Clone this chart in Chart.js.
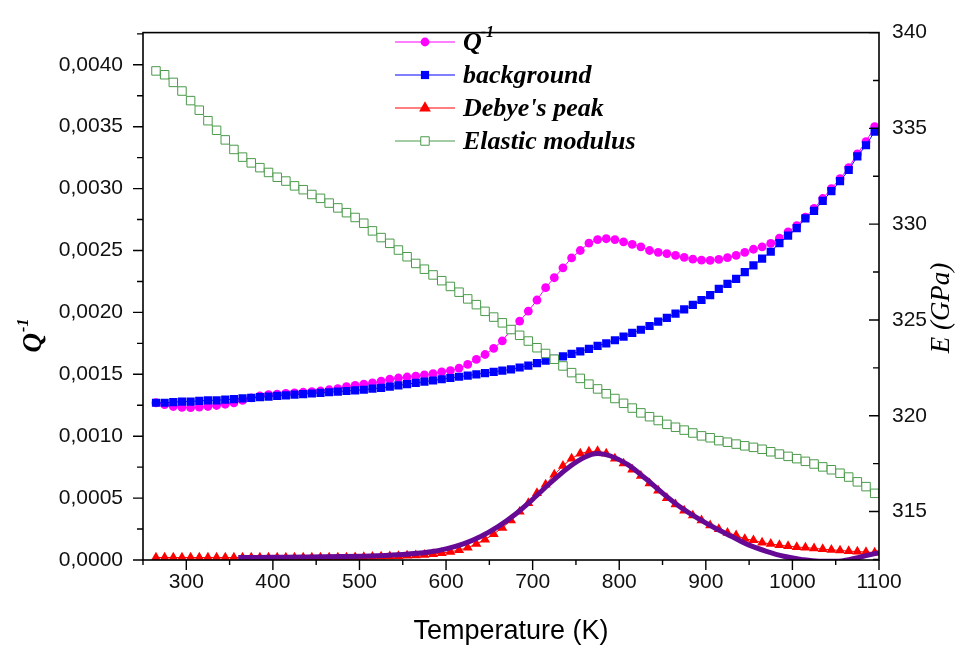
<!DOCTYPE html>
<html>
<head>
<meta charset="utf-8">
<script src="https://cdn.jsdelivr.net/npm/chart.js@4.4.1/dist/chart.umd.min.js"></script>
<style>
  html, body { margin: 0; padding: 0; background: #fff; }
</style>
</head>
<body>
<canvas id="c" width="967" height="649"></canvas>
<script>
// temperature grid of the measured points (K)
const temps = [
  265,275,285,295,305,315,325,335,345,355,
  365,375,385,395,405,415,425,435,445,455,
  465,475,485,495,505,515,525,535,545,555,
  565,575,585,595,605,615,625,635,645,655,
  665,675,685,695,705,715,725,735,745,755,
  765,775,785,795,805,815,825,835,845,855,
  865,875,885,895,905,915,925,935,945,955,
  965,975,985,995,1005,1015,1025,1035,1045,1055,
  1065,1075,1085,1095
];

// internal friction Q^-1
const qInv = [
  0.00127,0.001255,0.00124,0.001232,0.00123,0.001235,0.00124,0.001248,0.001258,0.00127,
  0.00129,0.00131,0.001325,0.001335,0.00134,0.001345,0.00135,0.001355,0.00136,0.001365,
  0.001375,0.001385,0.0014,0.00141,0.00142,0.00143,0.001445,0.00146,0.00147,0.001478,
  0.001485,0.001495,0.001505,0.00152,0.00153,0.00155,0.00158,0.00162,0.00166,0.00171,
  0.00177,0.00186,0.00193,0.00201,0.0021,0.0022,0.00228,0.00236,0.00244,0.0025,
  0.00256,0.002588,0.002595,0.002588,0.00257,0.00255,0.00253,0.0025,0.002485,0.002475,
  0.00246,0.002445,0.00243,0.002422,0.00242,0.002428,0.002443,0.00246,0.002485,0.00251,
  0.00253,0.002558,0.0026,0.00265,0.0027,0.00277,0.00284,0.00292,0.003,0.00308,
  0.00317,0.00328,0.00338,0.0035
];

// exponential background
const background = [
  0.00127,0.00127,0.001275,0.00128,0.00128,0.001285,0.00129,0.00129,0.001295,0.0013,
  0.001305,0.00131,0.001315,0.00132,0.001325,0.00133,0.001335,0.00134,0.001345,0.00135,
  0.001355,0.00136,0.001365,0.00137,0.001375,0.001385,0.00139,0.0014,0.00141,0.00142,
  0.00143,0.00144,0.00145,0.00146,0.00147,0.00148,0.00149,0.0015,0.00151,0.00152,
  0.00153,0.00154,0.001555,0.00157,0.00159,0.00161,0.001625,0.001645,0.001665,0.001685,
  0.001705,0.00173,0.00175,0.001775,0.001805,0.001835,0.00186,0.00189,0.001925,0.001955,
  0.00199,0.002025,0.00206,0.0021,0.00214,0.00219,0.00223,0.00227,0.002325,0.00238,
  0.002435,0.00249,0.00256,0.00262,0.00268,0.00276,0.00282,0.0029,0.00298,0.00306,
  0.00315,0.00326,0.00335,0.00346
];

// Q^-1 minus background
const debye = [
  0.00002,0.00002,0.00002,0.00002,0.00002,0.00002,0.00002,0.00002,0.00002,0.00002,
  0.00002,0.00002,0.00002,0.00002,0.00002,0.00002,0.00002,0.00002,0.00002,0.00002,
  0.00002,0.00002,0.00002,0.000022,0.000024,0.000026,0.000028,0.00003,0.000032,0.000035,
  0.000038,0.000042,0.000048,0.000056,0.000066,0.00008,0.0001,0.00013,0.000165,0.00021,
  0.00026,0.00032,0.00039,0.00046,0.00054,0.00061,0.00069,0.00076,0.00082,0.00086,
  0.000875,0.00088,0.00086,0.00082,0.00078,0.00073,0.00068,0.00062,0.00056,0.0005,
  0.00045,0.0004,0.00036,0.00032,0.00028,0.00025,0.00022,0.0002,0.00017,0.00016,
  0.00014,0.00013,0.00012,0.000112,0.000105,0.0001,0.000094,0.000088,0.000082,0.000077,
  0.000072,0.000068,0.000064,0.00006
];

// Young's modulus E (GPa), right axis
const modulus = [
  338.0,337.8,337.4,336.95,336.45,335.95,335.4,334.9,334.4,333.9,
  333.5,333.2,332.95,332.7,332.45,332.25,332.0,331.8,331.55,331.35,
  331.1,330.85,330.6,330.35,330.05,329.65,329.3,329.0,328.65,328.3,
  327.95,327.65,327.35,327.05,326.75,326.45,326.1,325.8,325.45,325.15,
  324.85,324.5,324.2,323.9,323.55,323.25,322.95,322.6,322.25,321.95,
  321.65,321.4,321.15,320.9,320.65,320.4,320.15,319.95,319.75,319.55,
  319.4,319.25,319.1,318.95,318.85,318.7,318.62,318.52,318.43,318.35,
  318.25,318.12,318.0,317.88,317.76,317.62,317.48,317.33,317.18,317.0,
  316.8,316.55,316.3,315.95
];

// fitted Debye peak
const fitT = [360,400,440,480,520,550,580,600,620,640,660,680,700,720,740,760,775,790,810,830,850,870,890,910,930,950,970,990,1010,1030,1050,1070,1085,1100];
const fitQ = [0.00002,0.000022,0.000024,0.000028,0.000035,0.000045,0.000065,0.00009,0.00013,0.00019,0.00027,0.00037,0.00049,0.00062,0.00074,0.00083,0.00086,0.00084,0.00077,0.00066,0.00054,0.00043,0.00034,0.00026,0.00019,0.00012,0.00007,0.00003,0.000005,-0.00001,-0.00001,0.00001,0.000035,0.00006];

const xTicks = [300,400,500,600,700,800,900,1000,1100];
const qTicks = [0,0.0005,0.001,0.0015,0.002,0.0025,0.003,0.0035,0.004];
const eTicks = [315,320,325,330,335,340];

const pts = (xs, ys) => xs.map((x, i) => ({x: x, y: ys[i]}));

const tickFont = {family: 'Liberation Sans, Arial, sans-serif', size: 21};
const serif = '"Liberation Serif", "Times New Roman", serif';

// frame, outward/inward tick marks and minor ticks
const axesPlugin = {
  id: 'axesPlugin',
  afterDatasetsDraw(chart) {
    const {ctx, chartArea: a, scales} = chart;
    const sx = scales.x, sy = scales.y, se = scales.y2;
    ctx.save();
    ctx.strokeStyle = '#000';
    ctx.lineWidth = 1.6;
    ctx.strokeRect(a.left, a.top, a.right - a.left, a.bottom - a.top);
    ctx.lineWidth = 1.4;
    ctx.beginPath();
    xTicks.forEach(v => {
      const p = sx.getPixelForValue(v);
      ctx.moveTo(p, a.bottom); ctx.lineTo(p, a.bottom + 10);
      const m = sx.getPixelForValue(v - 50);
      if (v - 50 >= sx.min) { ctx.moveTo(m, a.bottom); ctx.lineTo(m, a.bottom + 5); }
    });
    qTicks.forEach(v => {
      const p = sy.getPixelForValue(v);
      ctx.moveTo(a.left, p); ctx.lineTo(a.left - 10, p);
      const mv = v + 0.00025;
      if (mv <= sy.max) {
        const m = sy.getPixelForValue(mv);
        ctx.moveTo(a.left, m); ctx.lineTo(a.left - 6, m);
      }
    });
    eTicks.forEach(v => {
      const p = se.getPixelForValue(v);
      ctx.moveTo(a.right, p); ctx.lineTo(a.right - 10, p);
      const mv = v - 2.5;
      if (mv >= se.min) {
        const m = se.getPixelForValue(mv);
        ctx.moveTo(a.right, m); ctx.lineTo(a.right - 6, m);
      }
    });
    ctx.stroke();

    // axis titles
    ctx.fillStyle = '#000';
    ctx.textBaseline = 'middle';
    ctx.textAlign = 'center';
    ctx.font = '27px "Liberation Sans", Arial, sans-serif';
    ctx.fillText('Temperature (K)', (a.left + a.right) / 2, 632);

    ctx.save();
    ctx.translate(34, 336);
    ctx.rotate(-Math.PI / 2);
    ctx.textAlign = 'left';
    ctx.font = 'bold italic 27px ' + serif;
    const qw = ctx.measureText('Q').width;
    ctx.font = 'bold italic 16px ' + serif;
    const sw = ctx.measureText('-1').width;
    const x0 = -(qw + sw) / 2;
    ctx.font = 'bold italic 27px ' + serif;
    ctx.fillText('Q', x0, 0);
    ctx.font = 'bold italic 16px ' + serif;
    ctx.fillText('-1', x0 + qw + 1, -10);
    ctx.restore();

    ctx.save();
    ctx.translate(942, 308);
    ctx.rotate(-Math.PI / 2);
    ctx.font = 'italic 27px ' + serif;
    ctx.fillText('E (GPa)', 0, 0);
    ctx.restore();
    ctx.restore();
  }
};

// legend: short line with the marker in its middle
const legendPlugin = {
  id: 'legendPlugin',
  afterDraw(chart) {
    const ctx = chart.ctx;
    const rows = [0, 1, 2, 3];
    const labels = ['Q', 'background', "Debye's peak", 'Elastic modulus'];
    ctx.save();
    rows.forEach((di, i) => {
      const ds = chart.data.datasets[di];
      const y = 42 + i * 33;
      ctx.strokeStyle = ds.borderColor;
      ctx.lineWidth = 1;
      ctx.beginPath();
      ctx.moveTo(395, y); ctx.lineTo(455, y);
      ctx.stroke();
      ctx.fillStyle = ds.pointBackgroundColor;
      ctx.strokeStyle = ds.pointBorderColor;
      Chart.helpers.drawPoint(ctx, {
        pointStyle: ds.pointStyle, radius: ds.pointRadius + (di === 2 ? 1 : 0),
        rotation: 0, borderWidth: ds.pointBorderWidth
      }, 425, y);
      ctx.fillStyle = '#000';
      ctx.textAlign = 'left';
      ctx.textBaseline = 'middle';
      ctx.font = 'bold italic 26px ' + serif;
      ctx.fillText(labels[i], 463, y + 1);
      if (i === 0) {
        const w = ctx.measureText('Q').width;
        ctx.font = 'bold italic 16px ' + serif;
        ctx.fillText('-1', 462 + w, y - 9);
      }
    });
    ctx.restore();
  }
};

new Chart(document.getElementById('c'), {
  type: 'scatter',
  data: {
    datasets: [
      {
        label: 'Q-1', data: pts(temps, qInv), yAxisID: 'y', order: 5,
        showLine: true, borderColor: '#ff00ff', borderWidth: 1,
        pointStyle: 'circle', pointRadius: 4.4, pointBackgroundColor: '#ff00ff',
        pointBorderColor: '#ff00ff', pointBorderWidth: 0
      },
      {
        label: 'background', data: pts(temps, background), yAxisID: 'y', order: 4,
        showLine: true, borderColor: '#0000ff', borderWidth: 1,
        pointStyle: 'rect', pointRadius: 5.8, pointBackgroundColor: '#0000ff',
        pointBorderColor: '#0000ff', pointBorderWidth: 0
      },
      {
        label: "Debye's peak", data: pts(temps, debye), yAxisID: 'y', order: 3,
        showLine: true, borderColor: '#ff0000', borderWidth: 1,
        pointStyle: 'triangle', pointRadius: 5.8, pointBackgroundColor: '#ff0000',
        pointBorderColor: '#ff0000', pointBorderWidth: 0
      },
      {
        label: 'Elastic modulus', data: pts(temps, modulus), yAxisID: 'y2', order: 1,
        showLine: true, borderColor: '#4a9a4a', borderWidth: 1,
        pointStyle: 'rect', pointRadius: 6, pointBackgroundColor: '#ffffff',
        pointBorderColor: '#4a9a4a', pointBorderWidth: 1
      },
      {
        label: 'fit', data: pts(fitT, fitQ), yAxisID: 'y', order: 2,
        showLine: true, borderColor: '#660a96', borderWidth: 5,
        cubicInterpolationMode: 'monotone', pointRadius: 0, clip: 0
      }
    ]
  },
  options: {
    responsive: false,
    animation: false,
    layout: {padding: {top: 15, left: 0, right: 0, bottom: 0}},
    plugins: {legend: {display: false}, tooltip: {enabled: false}},
    scales: {
      x: {
        type: 'linear', min: 250, max: 1100,
        afterBuildTicks: s => { s.ticks = xTicks.map(v => ({value: v})); },
        afterFit: s => { s.height = 89; },
        grid: {display: false, drawTicks: false},
        border: {display: false},
        ticks: {font: tickFont, color: '#111', padding: 10, maxRotation: 0, callback: v => String(v)}
      },
      y: {
        type: 'linear', position: 'left', min: 0, max: 0.00426,
        afterBuildTicks: s => { s.ticks = qTicks.map(v => ({value: v})); },
        afterFit: s => { s.width = 143; },
        grid: {display: false, drawTicks: false},
        border: {display: false},
        ticks: {font: tickFont, color: '#111', padding: 20, callback: v => v.toFixed(4).replace('.', ',')}
      },
      y2: {
        type: 'linear', position: 'right', min: 312.47, max: 340,
        afterBuildTicks: s => { s.ticks = eTicks.map(v => ({value: v})); },
        afterFit: s => { s.width = 88; },
        grid: {display: false, drawTicks: false},
        border: {display: false},
        ticks: {font: tickFont, color: '#111', padding: 13, callback: v => String(v)}
      }
    }
  },
  plugins: [axesPlugin, legendPlugin]
});
</script>
</body>
</html>
